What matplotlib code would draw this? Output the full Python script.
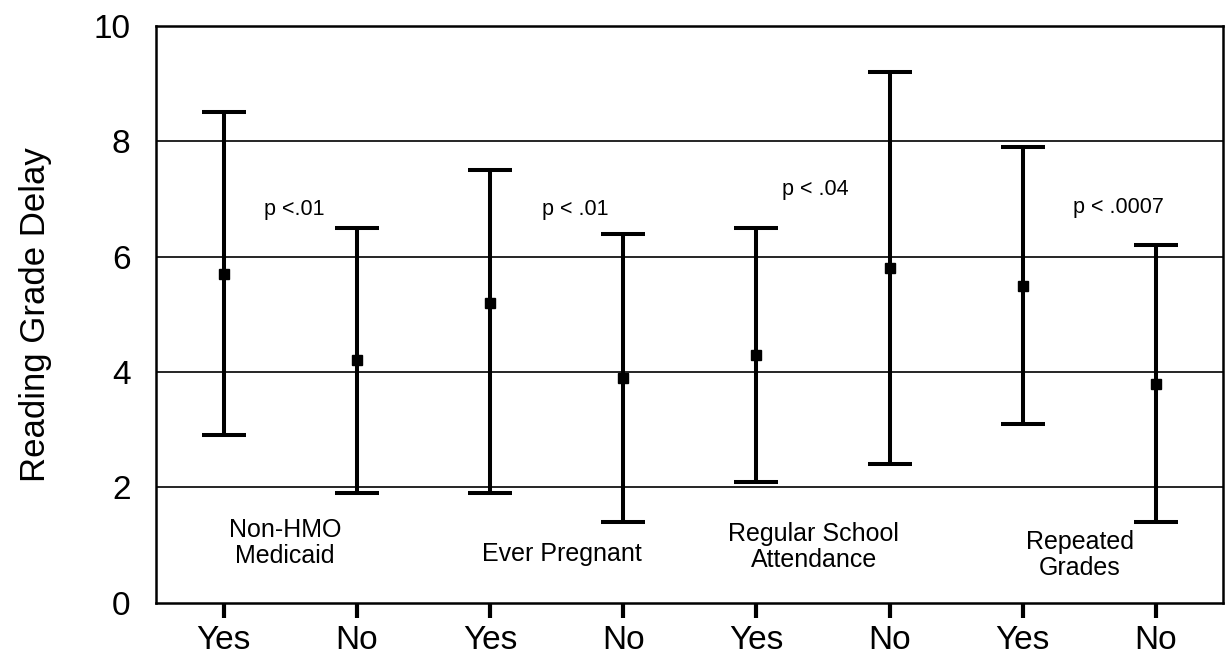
import matplotlib
matplotlib.use("Agg")
import matplotlib.pyplot as plt

# group means and 95% ranges
tick_labels = ["Yes", "No", "Yes", "No", "Yes", "No", "Yes", "No"]
means = [5.7, 4.2, 5.2, 3.9, 4.3, 5.8, 5.5, 3.8]
lows = [2.9, 1.9, 1.9, 1.4, 2.1, 2.4, 3.1, 1.4]
highs = [8.5, 6.5, 7.5, 6.4, 6.5, 9.2, 7.9, 6.2]

groups = ["Non-HMO\nMedicaid", "Ever Pregnant", "Regular School\nAttendance", "Repeated\nGrades"]
group_x = [1.46, 3.54, 5.43, 7.43]
group_y = [1.04, 0.84, 0.97, 0.82]

p_labels = ["p <.01", "p < .01", "p < .04", "p < .0007"]
p_x = [1.53, 3.64, 5.44, 7.72]
p_y = [6.81, 6.81, 7.16, 6.85]

plt.rcParams["font.family"] = ["Liberation Sans", "DejaVu Sans"]

fig = plt.figure(figsize=(12.25, 6.66), dpi=100)
ax = fig.add_axes([0.127, 0.095, 0.871, 0.866])

xs = list(range(1, len(means) + 1))
err_lo = [m - l for m, l in zip(means, lows)]
err_hi = [h - m for m, h in zip(means, highs)]
ax.errorbar(xs, means, yerr=[err_lo, err_hi], fmt="s", color="black",
            ecolor="black", elinewidth=2.9, capsize=15.5, capthick=2.9,
            markersize=7.2, zorder=3)

for y in [2, 4, 6, 8]:
    ax.axhline(y, color="black", linewidth=1.2, zorder=1)

for txt, x, y in zip(p_labels, p_x, p_y):
    ax.text(x, y, txt, ha="center", va="center", fontsize=15.5)

for txt, x, y in zip(groups, group_x, group_y):
    ax.text(x, y, txt, ha="center", va="center", fontsize=18, linespacing=1.1)

ax.set_xlim(0.49, 8.5)
ax.set_ylim(0, 10)
ax.set_xticks(xs)
ax.set_xticklabels(tick_labels, fontsize=24)
ax.set_yticks([0, 2, 4, 6, 8, 10])
ax.set_yticklabels(["0", "2", "4", "6", "8", "10"], fontsize=24)
ax.tick_params(axis="x", direction="out", length=11, width=3, pad=5)
ax.tick_params(axis="y", length=0, pad=18)
ax.set_ylabel("Reading Grade Delay", fontsize=25, labelpad=30)
for s in ax.spines.values():
    s.set_linewidth(1.8)

fig.savefig("out.png", dpi=100)
